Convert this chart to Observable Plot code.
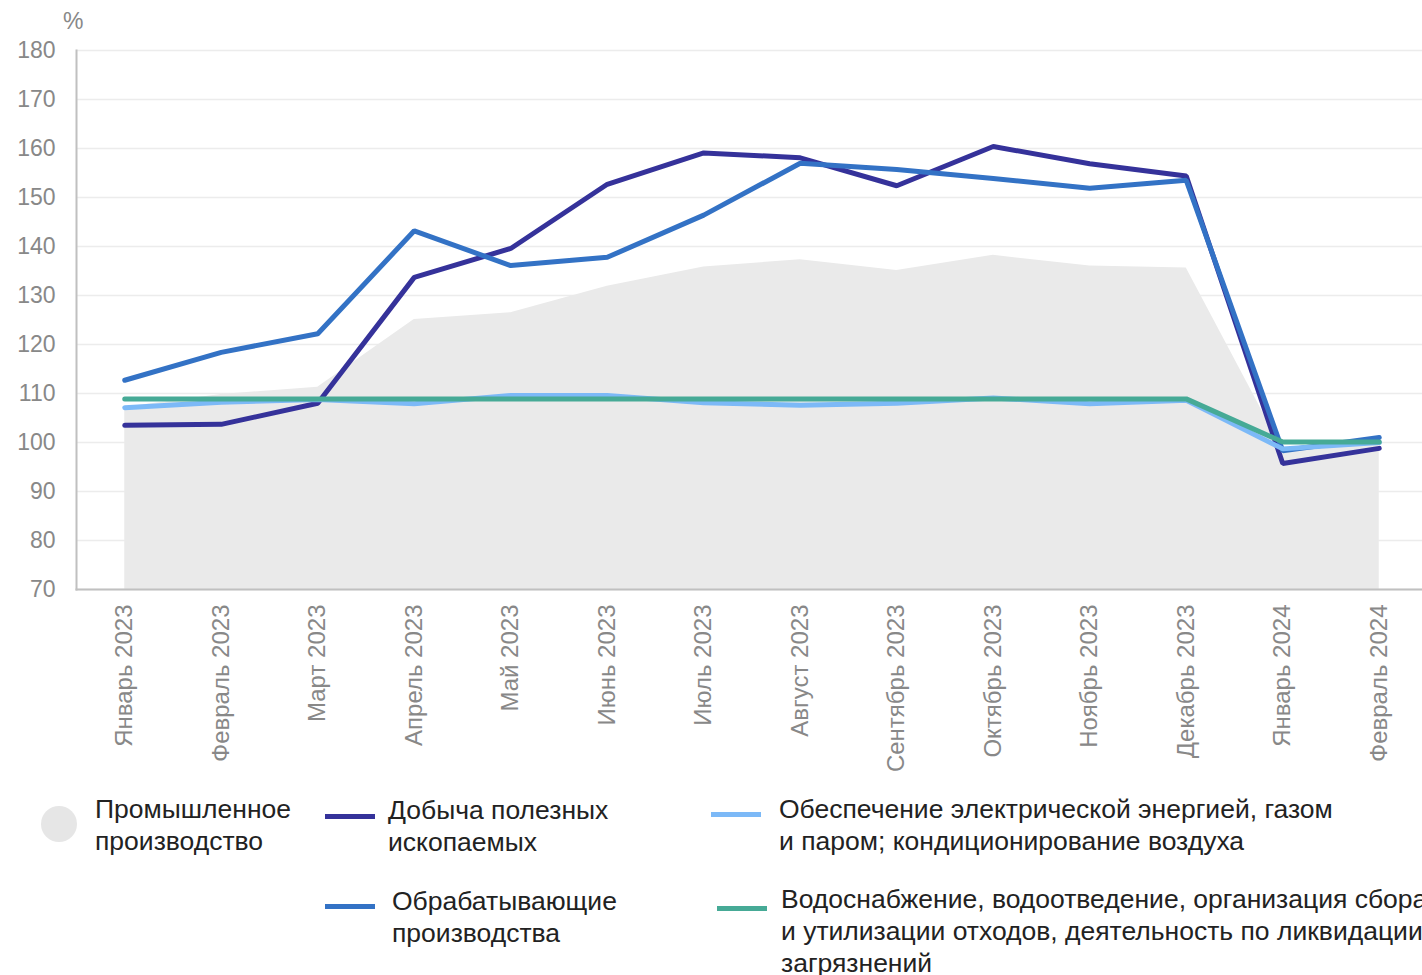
<!DOCTYPE html>
<html>
<head>
<meta charset="utf-8">
<script src="https://cdn.jsdelivr.net/npm/d3@7"></script>
<script src="https://cdn.jsdelivr.net/npm/@observablehq/plot@0.6"></script>
<style>
  html, body { margin: 0; padding: 0; background: #fff; overflow: hidden; width: 1422px; height: 975px; }
  #wrap { position: relative; width: 1422px; height: 975px; overflow: hidden; font-family: "Liberation Sans", Arial, sans-serif; }
  #chart { position: absolute; left: 0; top: 0; width: 1428px; }
  #chart svg { max-width: none !important; display: block; }
  .unit { position: absolute; left: 63px; top: 8px; font-size: 23px; color: #888; }
  .leg { position: absolute; font-size: 26.5px; line-height: 32px; color: #222; white-space: nowrap; }
  .sw { position: absolute; height: 5px; width: 50px; }
  .dot { position: absolute; width: 36px; height: 36px; border-radius: 50%; background: #e6e6e6; }
</style>
</head>
<body>
<div id="wrap">
  <div id="chart"></div>
  <div class="unit">%</div>
  <div class="dot" style="left:41px; top:806px;"></div>
  <div class="leg" style="left:95px; top:793px;">Промышленное<br>производство</div>
  <div class="sw" style="left:325px; top:814px; background:#35329a;"></div>
  <div class="leg" style="left:388px; top:794px;">Добыча полезных<br>ископаемых</div>
  <div class="sw" style="left:325px; top:904px; background:#3372c5;"></div>
  <div class="leg" style="left:392px; top:885px;">Обрабатывающие<br>производства</div>
  <div class="sw" style="left:711px; top:812px; background:#7cb9f7;"></div>
  <div class="leg" style="left:779px; top:793px;">Обеспечение электрической энергией, газом<br>и паром; кондиционирование воздуха</div>
  <div class="sw" style="left:717px; top:906px; background:#46aa96;"></div>
  <div class="leg" style="left:781px; top:883px;">Водоснабжение, водоотведение, организация сбора<br>и утилизации отходов, деятельность по ликвидации</div>
  <div class="leg" style="left:781px; top:951px; line-height:24px;">загрязнений</div>
</div>
<script>
const months = ["Январь 2023", "Февраль 2023", "Март 2023", "Апрель 2023", "Май 2023", "Июнь 2023", "Июль 2023", "Август 2023", "Сентябрь 2023", "Октябрь 2023", "Ноябрь 2023", "Декабрь 2023", "Январь 2024", "Февраль 2024"];
const industry      = [107.2, 109.8, 111.3, 125.1, 126.5, 131.9, 135.8, 137.3, 135.1, 138.2, 136.0, 135.6, 98.5, 99.8];
const mining        = [103.5, 103.7, 108.0, 133.7, 139.6, 152.7, 159.1, 158.1, 152.4, 160.4, 156.9, 154.4, 95.7, 98.8];
const manufacturing = [112.7, 118.4, 122.2, 143.2, 136.1, 137.8, 146.4, 157.0, 155.7, 153.9, 151.9, 153.5, 98.3, 101.0];
const electricity   = [107.1, 108.2, 108.8, 107.9, 109.6, 109.6, 108.1, 107.6, 108.0, 109.1, 107.9, 108.6, 98.7, 100.0];
const water         = [108.9, 108.9, 108.9, 108.9, 108.9, 108.9, 108.9, 108.9, 108.9, 108.9, 108.9, 108.9, 100.1, 100.1];
const yTicks = [70, 80, 90, 100, 110, 120, 130, 140, 150, 160, 170, 180];

const rows = months.map((m, i) => ({month: m, industry: industry[i], mining: mining[i], manufacturing: manufacturing[i], electricity: electricity[i], water: water[i]}));

const lineOpts = (key, color) => Plot.lineY(rows, {x: "month", y: key, stroke: color, strokeWidth: 5, strokeLinejoin: "miter", strokeLinecap: "round"});

const chart = Plot.plot({
  width: 1428,
  height: 775,
  marginLeft: 76,
  marginRight: 1,
  marginTop: 50,
  marginBottom: 186,
  style: {fontFamily: "'Liberation Sans', Arial, sans-serif", fontSize: "22px", color: "#888", background: "transparent", maxWidth: "none"},
  x: {type: "point", domain: months, padding: 0.5, round: false},
  y: {domain: [70, 180]},
  marks: [
    Plot.gridY(yTicks, {stroke: "#ececec", strokeOpacity: 1, strokeWidth: 1.5}),
    Plot.areaY(rows, {x: "month", y1: 70, y2: "industry", fill: "#eaeaea"}),
    Plot.frame({anchor: "left", stroke: "#c0c0c0", strokeWidth: 2}),
    Plot.frame({anchor: "bottom", stroke: "#c0c0c0", strokeWidth: 2}),
    Plot.axisY(yTicks, {tickSize: 0, tickPadding: 21, fill: "#888", fontSize: 23, label: null}),
    Plot.axisX({tickSize: 0, tickPadding: 15, tickRotate: -90, fill: "#888", fontSize: 24, label: null}),
    lineOpts("mining", "#35329a"),
    lineOpts("manufacturing", "#3372c5"),
    lineOpts("electricity", "#7cb9f7"),
    lineOpts("water", "#46aa96")
  ]
});
document.getElementById("chart").appendChild(chart);
</script>
</body>
</html>
